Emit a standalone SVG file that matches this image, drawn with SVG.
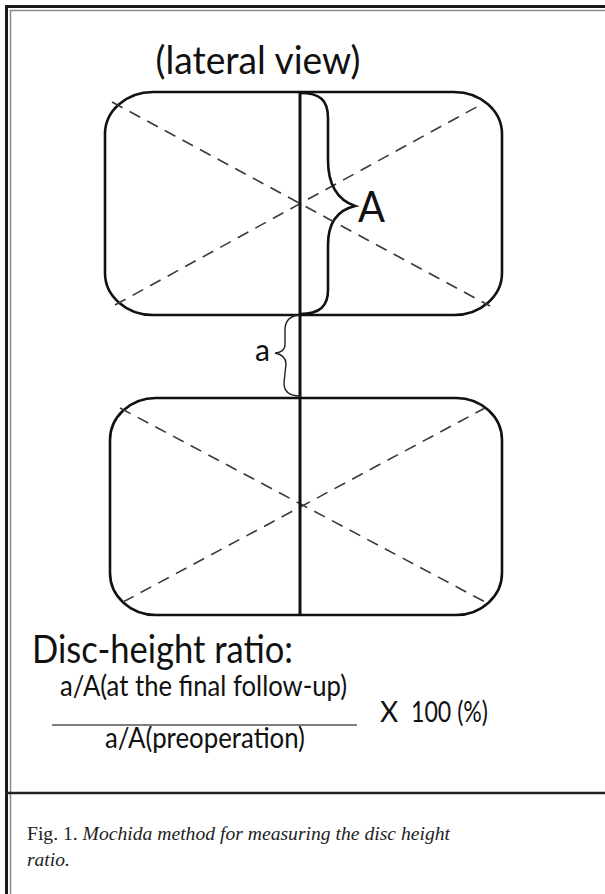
<svg xmlns="http://www.w3.org/2000/svg" width="605" height="894" viewBox="0 0 605 894">
<style>
.body{fill:none;stroke:#111;stroke-width:2.6}
.diag{stroke:#3a3a3a;stroke-width:1.6;stroke-dasharray:12 8;fill:none}
.sans{font-family:Lato,"Open Sans","Liberation Sans",sans-serif;fill:#111}
.cap{font-family:"Liberation Serif","DejaVu Serif",serif;fill:#222;font-size:19.5px}
</style>
<rect width="605" height="894" fill="#fff"/>
<g id="frame">
<path d="M6.5 894V6.5H605" fill="none" stroke="#1a1a1a" stroke-width="3"/>
<path d="M10.5 894V10.5H605" fill="none" stroke="#8a8a8a" stroke-width="1.5"/>
<line x1="5" y1="793" x2="605" y2="793" stroke="#222" stroke-width="2.5"/>
</g>
<g id="title"><text class="sans" x="258" y="74" font-size="38" text-anchor="middle" textLength="205" lengthAdjust="spacingAndGlyphs">(lateral view)</text></g>
<g id="vertebra-upper">
<rect class="body" x="105" y="92" width="397" height="223" rx="48" ry="42"/>
<line class="diag" x1="112" y1="102" x2="490" y2="306"/>
<line class="diag" x1="115" y1="305" x2="482" y2="104"/>
</g>
<g id="vertebra-lower">
<rect class="body" x="110" y="398" width="392" height="217" rx="46" ry="42"/>
<line class="diag" x1="120" y1="408" x2="487" y2="603"/>
<line class="diag" x1="123" y1="602" x2="485" y2="408"/>
</g>
<g id="connectors">
<line x1="300" y1="92" x2="300" y2="615" stroke="#111" stroke-width="3"/>
<path d="M300 93C320 93 328 100 328 118L328 160C328 185 338 200 355 206C338 210 328 222 328 245L328 290C328 306 320 314 300 314" fill="none" stroke="#111" stroke-width="2.6"/>
<path d="M299 315C290 316 285 321 285 330L285 345C285 350 280 353 275 353C280 354 286 357 286 364L284 383C284 392 290 396 300 396" fill="none" stroke="#222" stroke-width="1.4"/>
</g>
<g id="labels">
<text class="sans" x="358" y="222" font-size="42" textLength="27" lengthAdjust="spacingAndGlyphs">A</text>
<text class="sans" x="255" y="361" font-size="30" textLength="15" lengthAdjust="spacingAndGlyphs">a</text>
</g>
<g id="formula">
<text class="sans" x="32" y="663" font-size="38" textLength="261" lengthAdjust="spacingAndGlyphs">Disc-height ratio:</text>
<text class="sans" x="60" y="696" font-size="28" textLength="287" lengthAdjust="spacingAndGlyphs">a/A(at the final follow-up)</text>
<line x1="52" y1="725" x2="357" y2="725" stroke="#555" stroke-width="1.5"/>
<text class="sans" x="105" y="748" font-size="28" textLength="200" lengthAdjust="spacingAndGlyphs">a/A(preoperation)</text>
<text class="sans" font-size="28" y="722"><tspan x="380">X</tspan><tspan x="411" textLength="77" lengthAdjust="spacingAndGlyphs">100 (%)</tspan></text>
</g>
<g id="caption">
<text class="cap" x="27" y="840" textLength="423" lengthAdjust="spacingAndGlyphs">Fig. 1. <tspan font-style="italic">Mochida method for measuring the disc height</tspan></text>
<text class="cap" x="27" y="866" font-style="italic">ratio.</text>
</g>
</svg>
